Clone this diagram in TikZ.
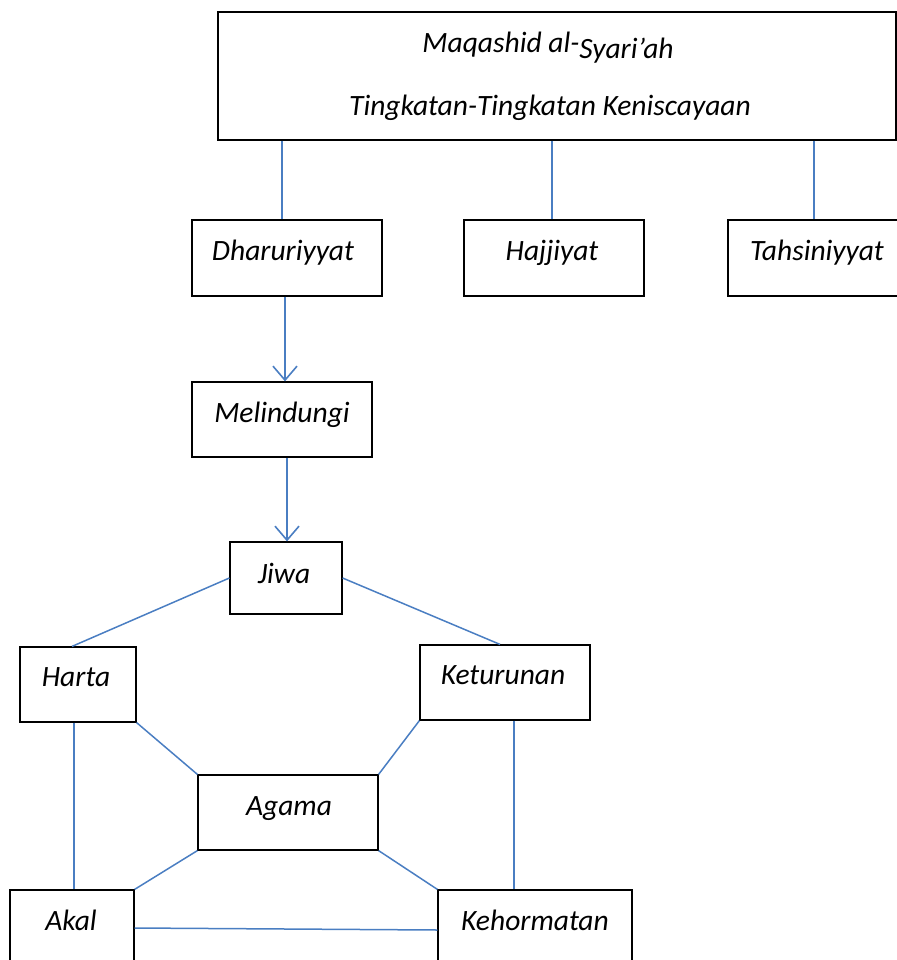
\documentclass[tikz,border=0pt]{standalone}
\usepackage{fontspec}
\setmainfont{Carlito}
\usetikzlibrary{arrows.meta}
\definecolor{conn}{HTML}{4A7EC2}
\tikzset{
  box/.style={draw=black, line width=1.2pt, rectangle, inner sep=0pt},
  txt/.style={anchor=base, inner sep=0pt, font=\fontsize{29.5}{34}\selectfont\itshape},
  link/.style={draw=conn, line width=1.5pt},
  arr/.style={link, -{Straight Barb[length=14pt,width=24pt,line width=1.6pt]}}
}
\begin{document}
\begin{tikzpicture}[x=1pt,y=-1pt]
\useasboundingbox (0,0) rectangle (896,960);
% boxes
\node[box, minimum width=678pt, minimum height=128pt] (top) at (557,76) {};
\node[box, minimum width=190pt, minimum height=76pt] (dha) at (287,258) {};
\node[box, minimum width=180pt, minimum height=76pt] (haj) at (554,258) {};
\node[box, minimum width=172pt, minimum height=76pt] (tah) at (814,258) {};
\node[box, minimum width=180pt, minimum height=75pt] (mel) at (282,419.5) {};
\node[box, minimum width=112pt, minimum height=72pt] (jiwa) at (286,578) {};
\node[box, minimum width=116pt, minimum height=75pt] (har) at (78,684.5) {};
\node[box, minimum width=170pt, minimum height=75pt] (ket) at (505,682.5) {};
\node[box, minimum width=180pt, minimum height=75pt] (aga) at (288,812.5) {};
\node[box, minimum width=124pt, minimum height=80pt] (aka) at (72,930) {};
\node[box, minimum width=194pt, minimum height=80pt] (keh) at (535,930) {};
% texts
\node[txt] (top1) at (548,53) {Maqashid al-\raisebox{-6pt}{Syari’ah}};
\node[txt] (top2) at (550,116) {Tingkatan-Tingkatan Keniscayaan};
\node[txt] (dhat) at (283,260) {Dharuriyyat};
\node[txt] (hajt) at (552,260) {Hajjiyat};
\node[txt] (taht) at (817,260) {Tahsiniyyat};
\node[txt] (melt) at (282,422) {Melindungi};
\node[txt] (jiwat) at (284,583) {Jiwa};
\node[txt] (hart) at (76,686) {Harta};
\node[txt] (kett) at (503,684) {Keturunan};
\node[txt] (agat) at (289,815) {Agama};
\node[txt] (akat) at (71,930) {Akal};
\node[txt] (keht) at (535,930) {Kehormatan};
% connectors
\draw[link] (top.south -| 282,0) -- (dha.north -| 282,0);
\draw[link] (top.south -| 552,0) -- (haj.north -| 552,0);
\draw[link] (top.south -| 814,0) -- (tah.north -| 814,0);
\draw[arr] (dha.south -| 285,0) -- (mel.north -| 285,0);
\draw[arr] (mel.south -| 287,0) -- (jiwa.north -| 287,0);
\draw[link] (jiwa.west |- 0,578) -- (har.north -| 72,0);
\draw[link] (jiwa.east |- 0,578) -- (ket.north -| 500,0);
\draw[link] (har.south east) -- (aga.north west);
\draw[link] (ket.south west) -- (aga.north east);
\draw[link] (har.south -| 74,0) -- (aka.north -| 74,0);
\draw[link] (ket.south -| 514,0) -- (keh.north -| 514,0);
\draw[link] (aga.south west) -- (aka.north east);
\draw[link] (aga.south east) -- (keh.north west);
\draw[link] (aka.east |- 0,928) -- (keh.west |- 0,930);
\end{tikzpicture}
\end{document}
